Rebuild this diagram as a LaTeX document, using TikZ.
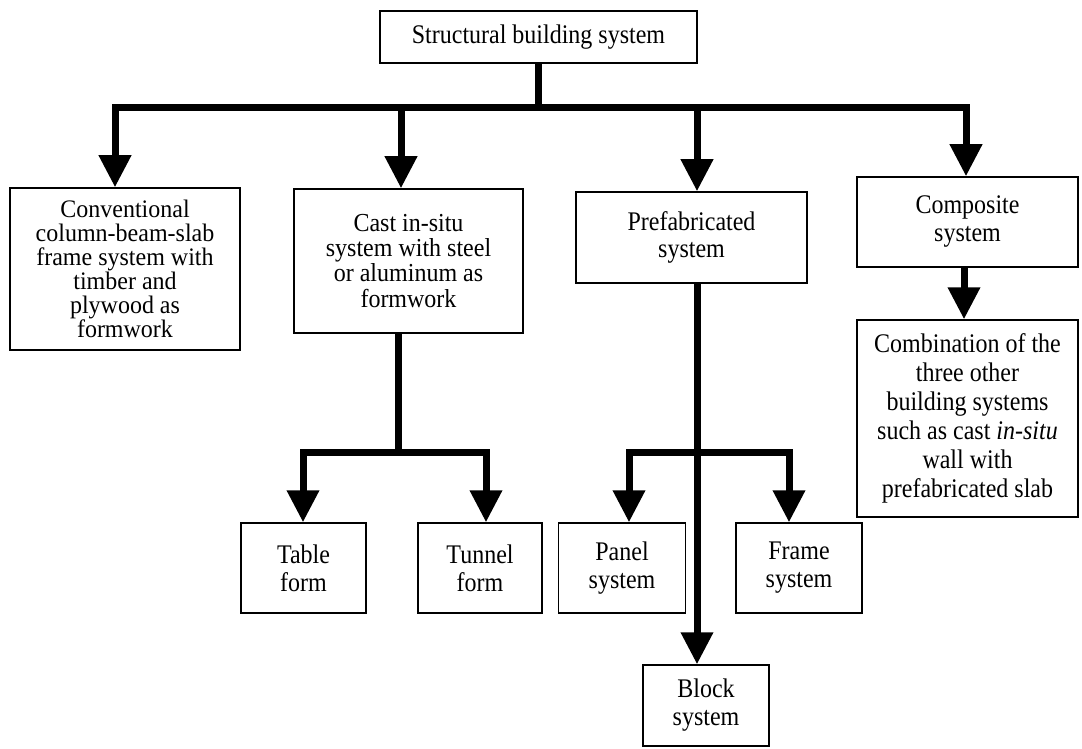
\documentclass[tikz,border=0pt]{standalone}
\usepackage{graphicx}
\usepackage{fontspec}
\setmainfont{Liberation Serif}
\usetikzlibrary{arrows.meta}
\newcommand\stretchtext[4][1.12]{\scalebox{1}[#1]{\parbox{#3pt}{\centering\lineskiplimit=-100pt\fontsize{24}{#2}\selectfont #4}}}
\begin{document}
\begin{tikzpicture}[x=1pt,y=-1pt,
  box/.style={draw=black, line width=1.5pt, fill=white, align=center, inner sep=0pt,
    font=\fontsize{24}{25}\selectfont, text=black},
  conn/.style={line width=7pt, line join=miter, draw=black},
  arr/.style={conn, -{Triangle[length=32pt,width=31pt]}},
  arrboth/.style={conn, {Triangle[length=32pt,width=31pt]}-{Triangle[length=32pt,width=31pt]}}
]
\useasboundingbox[fill=white] (0,0) rectangle (1082,749);

% boxes
\node[box, minimum width=317pt, minimum height=52pt] (top) at (538.5,37)
  {\stretchtext{25}{310}{Structural building system}};
\node[box, minimum width=230pt, minimum height=162pt] (conv) at (125,269)
  {\stretchtext[1.05]{22.9}{224}{Conventional\\column-beam-slab\\frame system with\\timber and\\plywood as\\formwork}};
\node[box, minimum width=229pt, minimum height=144pt] (cast) at (408.5,261)
  {\stretchtext[1.08]{23.2}{223}{Cast in-situ\\system with steel\\or aluminum as\\formwork}};
\node[box, minimum width=231pt, minimum height=91pt] (prefab) at (691.5,237.5)
  {\stretchtext{23.5}{225}{Prefabricated\\system}};
\node[box, minimum width=221pt, minimum height=90pt] (comp) at (967.5,222)
  {\stretchtext{25}{215}{Composite\\system}};
\node[box, minimum width=221pt, minimum height=197pt] (comb) at (967.5,418.5)
  {\stretchtext{25.9}{215}{Combination of the\\three other\\building systems\\such as cast \textit{in-situ}\\wall with\\prefabricated slab}};
\node[box, minimum width=125pt, minimum height=90pt] (table) at (303.5,568)
  {\stretchtext{25}{119}{Table\\form}};
\node[box, minimum width=124pt, minimum height=90pt] (tunnel) at (480,568)
  {\stretchtext{25}{118}{Tunnel\\form}};
\node[box, minimum width=127pt, minimum height=90pt] (panel) at (622,568)
  {\stretchtext{25}{120}{Panel\\system}};
\node[box, minimum width=126pt, minimum height=90pt] (frame) at (799,568)
  {\stretchtext{25}{120}{Frame\\system}};
\node[box, minimum width=126pt, minimum height=81pt] (block) at (706,705.5)
  {\stretchtext{25}{120}{Block\\system}};

% junction coordinates
\coordinate (bL) at (115,108);
\coordinate (bR) at (966,108);
\coordinate (bC) at (401,108);
\coordinate (bP) at (697,108);
\coordinate (cS) at (398,452);
\coordinate (tL) at (303,452);
\coordinate (tR) at (486,452);
\coordinate (pS) at (697,452);
\coordinate (pL) at (629,452);
\coordinate (pR) at (789,452);
\coordinate (cm) at (964,300);

% connectors
\draw[conn] (top.south) -- (top.south |- bL);
\draw[arrboth] (bL |- conv.north) -- (bL) -- (bR) -- (bR |- comp.north);
\draw[arr] (bC) -- (bC |- cast.north);
\draw[arr] (bP) -- (bP |- prefab.north);

\draw[conn] (cS |- cast.south) -- (cS);
\draw[arrboth] (tL |- table.north) -- (tL) -- (tR) -- (tR |- tunnel.north);

\draw[arr] (pS |- prefab.south) -- (pS |- block.north);
\draw[arrboth] (pL |- panel.north) -- (pL) -- (pR) -- (pR |- frame.north);

\draw[arr] (cm |- comp.south) -- (cm |- comb.north);
\end{tikzpicture}
\end{document}
